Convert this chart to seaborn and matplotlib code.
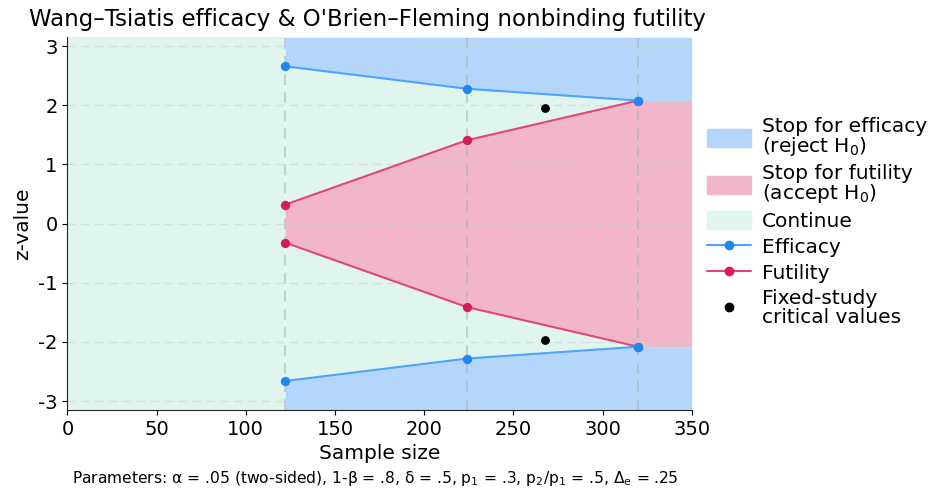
import numpy as np
import pandas as pd
import matplotlib
matplotlib.use("Agg")
import matplotlib.pyplot as plt
import seaborn as sns
from matplotlib.patches import Patch
from matplotlib.lines import Line2D

# interim analyses
sample_size = [122, 224, 320]
efficacy = [2.66, 2.28, 2.08]
futility = [0.32, 1.41, 2.08]

# fixed-study design
fixed_n = [268]
fixed_z = [1.96]

x_max = 350
y_lim = 3.15

c_eff_fill = "#b5d6fb"
c_fut_fill = "#f2b6cb"
c_cont_fill = "#dff5ee"
c_eff_line = "#4da3ff"
c_eff_dot = "#1e87f0"
c_fut_line = "#e2457c"
c_fut_dot = "#d81b60"

sns.set_style("ticks", {"text.color": "black", "axes.labelcolor": "black",
                        "xtick.color": "black", "ytick.color": "black"})
plt.rcParams["font.family"] = ["DejaVu Sans"]

fig, ax = plt.subplots(figsize=(9.36, 4.97), dpi=100)

n_ext = sample_size + [x_max]
eff_ext = efficacy + [efficacy[-1]]
fut_ext = futility + [futility[-1]]

# regions
ax.axvspan(0, sample_size[0], color=c_cont_fill, lw=0, zorder=0)
ax.fill_between(sample_size, -np.array(efficacy), efficacy, color=c_cont_fill, lw=0, zorder=0)
ax.fill_between(n_ext, eff_ext, y_lim, color=c_eff_fill, lw=0, zorder=0)
ax.fill_between(n_ext, -y_lim, -np.array(eff_ext), color=c_eff_fill, lw=0, zorder=0)
ax.fill_between(n_ext, -np.array(fut_ext), fut_ext, color=c_fut_fill, lw=0, zorder=0)

# grid
for t in range(-3, 4):
    ax.axhline(t, color="#c8d4cf", ls=(0, (6, 4)), lw=1, alpha=0.6, zorder=1)
for n in sample_size:
    ax.axvline(n, color="#a8b4b0", ls=(0, (6, 4)), lw=1.3, alpha=0.6, zorder=1)

df = pd.DataFrame({"n": sample_size, "eff": efficacy, "fut": futility})
for sign in (1, -1):
    sns.lineplot(x=df["n"], y=sign * df["fut"], color=c_fut_line, lw=1.5, ax=ax, zorder=3)
    sns.scatterplot(x=df["n"], y=sign * df["fut"], color=c_fut_dot, s=45, linewidth=0, ax=ax, zorder=4)
    sns.lineplot(x=df["n"], y=sign * df["eff"], color=c_eff_line, lw=1.5, ax=ax, zorder=5)
    sns.scatterplot(x=df["n"], y=sign * df["eff"], color=c_eff_dot, s=45, linewidth=0, ax=ax, zorder=6)
    sns.scatterplot(x=fixed_n, y=[sign * z for z in fixed_z], color="black", s=40, linewidth=0, ax=ax, zorder=6)

ax.set_xlim(0, x_max)
ax.set_ylim(-y_lim, y_lim)
ax.set_xticks(range(0, 351, 50))
ax.set_yticks(range(-3, 4))
ax.set_yticklabels([str(t) for t in range(-3, 4)])
ax.tick_params(labelsize=14)
ax.set_xlabel("Sample size", fontsize=14.5)
ax.set_ylabel("z-value", fontsize=14.5)
ax.set_title("Wang\u2013Tsiatis efficacy & O'Brien\u2013Fleming nonbinding futility",
             fontsize=16.5, pad=8, x=0.48)
sns.despine(ax=ax)

handles = [
    Patch(color=c_eff_fill, label="Stop for efficacy\n(reject H$_0$)"),
    Patch(color=c_fut_fill, label="Stop for futility\n(accept H$_0$)"),
    Patch(color=c_cont_fill, label="Continue"),
    Line2D([], [], color=c_eff_line, marker="o", mfc=c_eff_dot, mec=c_eff_dot, ms=6, label="Efficacy"),
    Line2D([], [], color=c_fut_line, marker="o", mfc=c_fut_dot, mec=c_fut_dot, ms=6, label="Futility"),
    Line2D([], [], color="black", marker="o", ls="", ms=6, label="Fixed-study\ncritical values"),
]
leg = ax.legend(handles=handles, loc="center left", bbox_to_anchor=(1.005, 0.505), frameon=False,
                fontsize=14.5, handlelength=2.2, handleheight=1.0, labelspacing=0.3,
                handletextpad=0.55, borderaxespad=0.2)
for txt in leg.get_texts():
    txt.set_linespacing(0.95)

fig.text(0.401, 0.028, "Parameters: \u03b1 = .05 (two-sided), 1-\u03b2 = .8, \u03b4 = .5, p$_1$ = .3, "
         "p$_2$/p$_1$ = .5, \u0394$_\\mathrm{e}$ = .25", ha="center", fontsize=11.2)

fig.subplots_adjust(left=0.072, right=0.739, top=0.925, bottom=0.175)
fig.savefig("out.png", dpi=100)
